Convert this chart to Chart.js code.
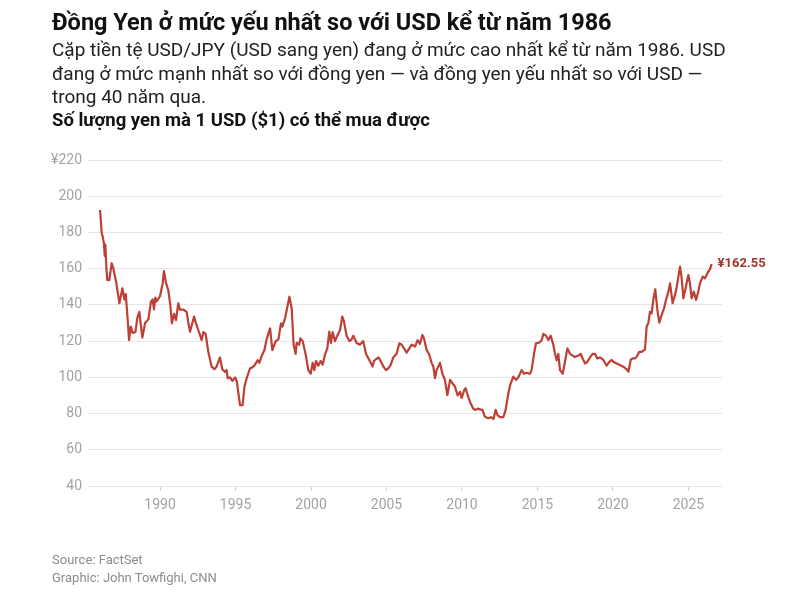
<!DOCTYPE html>
<html>
<head>
<meta charset="utf-8">
<script src="https://cdn.jsdelivr.net/npm/chart.js@4.4.1/dist/chart.umd.min.js"></script>
<style>
  body { margin: 0; background: #fff; width: 800px; height: 592px; overflow: hidden; font-family: Roboto, "Liberation Sans", sans-serif; }
  .t { position: absolute; left: 52px; white-space: nowrap; }
  #title { top: 8px; font-size: 23.5px; line-height: 28px; font-weight: 700; color: #111; }
  .sub { font-size: 19px; line-height: 23.5px; color: #222; }
  #unit { top: 108px; font-size: 18.5px; line-height: 24px; font-weight: 700; color: #111; }
  .foot { font-size: 13px; line-height: 18px; color: #8c8c8c; }
  canvas { position: absolute; left: 0; top: 0; }
</style>
</head>
<body>
<canvas id="chart" width="800" height="592"></canvas>
<div class="t" id="title">Đồng Yen ở mức yếu nhất so với USD kể từ năm 1986</div>
<div class="t sub" style="top:38px">Cặp tiền tệ USD/JPY (USD sang yen) đang ở mức cao nhất kể từ năm 1986. USD</div>
<div class="t sub" style="top:61.5px">đang ở mức mạnh nhất so với đồng yen — và đồng yen yếu nhất so với USD —</div>
<div class="t sub" style="top:85px">trong 40 năm qua.</div>
<div class="t" id="unit">Số lượng yen mà 1 USD ($1) có thể mua được</div>
<div class="t foot" style="top:551px">Source: FactSet</div>
<div class="t foot" style="top:569px">Graphic: John Towfighi, CNN</div>
<script>
// dates as decimal years, values = yen per 1 USD
const dates = [
  1986.03, 1986.14, 1986.2, 1986.29, 1986.34, 1986.38, 1986.45, 1986.51, 1986.64, 1986.8, 1986.91,
  1987.09, 1987.31, 1987.51, 1987.64, 1987.73, 1987.84, 1987.95, 1988.06, 1988.19, 1988.37, 1988.5,
  1988.63, 1988.73, 1988.83, 1989.01, 1989.23, 1989.4, 1989.51, 1989.6, 1989.69, 1989.78, 1990.0,
  1990.18, 1990.26, 1990.4, 1990.55, 1990.68, 1990.79, 1990.93, 1991.06, 1991.21, 1991.32, 1991.55,
  1991.77, 1991.88, 1991.99, 1992.25, 1992.38, 1992.54, 1992.76, 1992.87, 1993.02, 1993.2, 1993.42,
  1993.6, 1993.75, 1993.97, 1994.13, 1994.3, 1994.41, 1994.48, 1994.64, 1994.79, 1994.97, 1995.08,
  1995.19, 1995.3, 1995.47, 1995.59, 1995.74, 1995.96, 1996.12, 1996.29, 1996.47, 1996.58, 1996.73,
  1996.91, 1997.06, 1997.29, 1997.44, 1997.66, 1997.84, 1998.01, 1998.1, 1998.28, 1998.39, 1998.57,
  1998.72, 1998.85, 1998.98, 1999.05, 1999.21, 1999.3, 1999.45, 1999.67, 1999.82, 1999.98, 2000.11,
  2000.22, 2000.33, 2000.48, 2000.64, 2000.77, 2000.93, 2001.08, 2001.21, 2001.32, 2001.43, 2001.59,
  2001.74, 2001.92, 2002.07, 2002.18, 2002.36, 2002.54, 2002.69, 2002.8, 2003.02, 2003.24, 2003.46,
  2003.64, 2003.91, 2004.08, 2004.17, 2004.3, 2004.48, 2004.61, 2004.79, 2004.97, 2005.12, 2005.27,
  2005.45, 2005.67, 2005.85, 2006.0, 2006.16, 2006.33, 2006.51, 2006.67, 2006.89, 2007.06, 2007.22,
  2007.37, 2007.48, 2007.66, 2007.81, 2007.99, 2008.1, 2008.21, 2008.32, 2008.54, 2008.7, 2008.87,
  2009.03, 2009.21, 2009.38, 2009.54, 2009.71, 2009.87, 2009.98, 2010.15, 2010.24, 2010.38, 2010.53,
  2010.75, 2010.86, 2011.04, 2011.19, 2011.35, 2011.52, 2011.74, 2011.92, 2012.08, 2012.23, 2012.36,
  2012.52, 2012.74, 2012.89, 2013.07, 2013.2, 2013.4, 2013.58, 2013.73, 2013.95, 2014.11, 2014.28,
  2014.5, 2014.61, 2014.77, 2014.9, 2015.12, 2015.28, 2015.39, 2015.56, 2015.72, 2015.87, 2016.05,
  2016.16, 2016.27, 2016.38, 2016.49, 2016.67, 2016.82, 2016.98, 2017.15, 2017.33, 2017.48, 2017.71,
  2017.86, 2017.99, 2018.15, 2018.3, 2018.48, 2018.65, 2018.81, 2018.96, 2019.14, 2019.36, 2019.58,
  2019.76, 2019.91, 2020.02, 2020.24, 2020.46, 2020.68, 2020.91, 2021.02, 2021.17, 2021.3, 2021.46,
  2021.57, 2021.74, 2021.9, 2022.12, 2022.23, 2022.34, 2022.45, 2022.56, 2022.67, 2022.8, 2022.94,
  2023.07, 2023.22, 2023.38, 2023.51, 2023.67, 2023.78, 2023.95, 2024.11, 2024.22, 2024.33, 2024.44,
  2024.55, 2024.66, 2024.83, 2024.99, 2025.1, 2025.21, 2025.36, 2025.5, 2025.65, 2025.76, 2025.94,
  2026.09, 2026.2, 2026.31, 2026.42, 2026.53
];
const yen = [
  192.4, 179.5, 178, 173.6, 167, 173, 160, 153.7, 153.7, 163, 160,
  152.8, 140.9, 149.2, 143, 146, 134, 120.6, 128, 124.5, 125, 133,
  136.2, 129, 121.9, 130, 132, 141.8, 143, 137.5, 144, 142, 144.8,
  152, 158.7, 152, 148, 140, 129.8, 135, 131.6, 140.9, 137.4, 137.4,
  136, 130, 125.2, 133.5, 129.8, 126, 120.6, 125, 124, 114, 105.9,
  104.5, 106, 111, 104.5, 103, 104, 99.5, 100, 98, 100, 98,
  91.2, 84.7, 84.7, 94.8, 99.5, 105, 105.5, 107, 109.5, 108, 111.8,
  115, 121, 127, 115, 120, 121, 129.8, 128, 132.6, 137, 144.5,
  138, 118, 113, 119, 118, 121.5, 120, 111.6, 104, 102, 108,
  104, 109, 106.4, 109, 107, 112.7, 116, 125.2, 119, 125, 120,
  123, 126, 133.5, 131, 123, 120, 121, 123, 119, 118, 120,
  113, 108.7, 106, 109, 110, 111, 109, 106, 104, 105, 106.7,
  111, 113, 118.8, 118, 116, 113.6, 116, 118, 117, 120.5, 118.5,
  123.4, 121.6, 115, 113, 108, 106, 99.5, 104, 108, 102, 98.6,
  90.2, 98.6, 96.6, 94.8, 90, 92, 88.6, 93, 94, 90, 86.4,
  82.7, 82, 82.7, 82.3, 82, 78.2, 77.4, 78, 77, 82, 79,
  78, 78, 82, 91.2, 96, 100.4, 98.6, 100, 104, 102, 102.5,
  102, 104, 113, 118.8, 119.2, 120.6, 124, 123, 120.6, 123, 118,
  113, 109.4, 113, 104, 102, 108.6, 116, 113, 112, 111.2, 112,
  113, 110.4, 107.6, 108.5, 111, 113, 113, 110.4, 111, 109.6, 106.5,
  108.5, 109.6, 108.6, 107.7, 106.8, 105.9, 104.4, 103.1, 109.6, 110.5, 110.5,
  111.4, 114.1, 114.1, 115.5, 128, 129.8, 136.2, 135.3, 142.7, 148.6, 137.2,
  130.2, 134.4, 138.1, 142.7, 147.3, 151.9, 140.9, 145.5, 150, 155.6, 161.1,
  154.7, 143.6, 150, 156.5, 151.9, 143.6, 147.3, 142.7, 147.3, 151.9, 155.6,
  154.7, 156.5, 158.3, 159.6, 162.55
];
const xTicks = [1990, 1995, 2000, 2005, 2010, 2015, 2020, 2025];
const yTicks = [40, 60, 80, 100, 120, 140, 160, 180, 200, 220];

const lineColor = "#bd3f36";

const endLabel = {
  id: "endLabel",
  afterDatasetsDraw(chart) {
    const meta = chart.getDatasetMeta(0);
    const last = meta.data[meta.data.length - 1];
    const c = chart.ctx;
    c.save();
    c.font = "bold 13px Roboto, 'Liberation Sans', sans-serif";
    c.fillStyle = "#a5362d";
    c.textBaseline = "middle";
    c.fillText("¥" + yen[yen.length - 1].toFixed(2), last.x + 6, last.y);
    c.restore();
  }
};

const tickFont = { family: "Roboto, 'Liberation Sans', sans-serif", size: 14 };

new Chart(document.getElementById("chart").getContext("2d"), {
  type: "line",
  data: {
    datasets: [{
      data: dates.map((d, i) => ({ x: d, y: yen[i] })),
      borderColor: lineColor,
      borderWidth: 2.2,
      borderJoinStyle: "round",
      pointRadius: 0,
      tension: 0,
      fill: false
    }]
  },
  options: {
    responsive: false,
    animation: false,
    layout: { padding: { top: 160, right: 78, left: 0, bottom: 0 } },
    plugins: { legend: { display: false }, tooltip: { enabled: false } },
    scales: {
      x: {
        type: "linear",
        min: 1985.23,
        max: 2027.22,
        afterBuildTicks: s => { s.ticks = xTicks.map(v => ({ value: v })); },
        afterFit: s => { s.height = 106; },
        grid: { drawOnChartArea: false, tickLength: 5, color: "#cfcfcf" },
        border: { display: false },
        ticks: { padding: 6, color: "#a3a3a3", font: tickFont, maxRotation: 0, autoSkip: false, callback: v => String(v) }
      },
      y: {
        min: 40,
        max: 220,
        afterBuildTicks: s => { s.ticks = yTicks.map(v => ({ value: v })); },
        afterFit: s => { s.width = 88; },
        grid: { color: "#e6e6e6", drawTicks: false },
        border: { display: false },
        ticks: { padding: 6, color: "#a3a3a3", font: tickFont, callback: v => (v === 220 ? "¥220" : String(v)) }
      }
    }
  },
  plugins: [endLabel]
});
</script>
</body>
</html>
